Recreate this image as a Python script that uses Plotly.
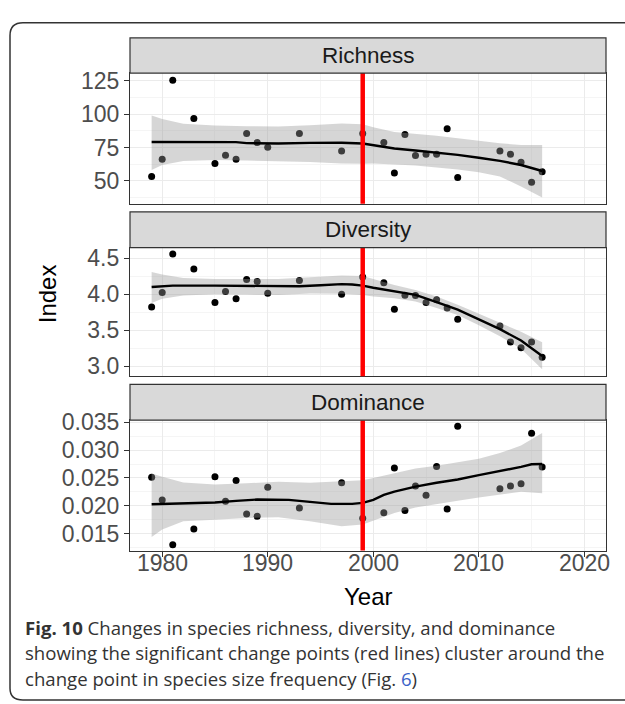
import plotly.graph_objects as go

W, H = 625, 704

# ---- observations -------------------------------------------------------
years = [1979, 1980, 1981, 1983, 1985, 1986, 1987, 1988, 1989, 1990, 1993, 1997, 1999,
         2001, 2002, 2003, 2004, 2005, 2006, 2007, 2008, 2012, 2013, 2014, 2015, 2016]

richness = [53.2, 66.3, 125.5, 96.8, 63.1, 69.3, 66.3, 85.6, 78.7, 75.2, 85.6, 72.5, 85.6,
            78.7, 55.9, 84.7, 69.1, 70.0, 70.0, 89.1, 52.5, 72.5, 70.0, 63.9, 49.0, 56.9]

diversity = [3.823, 4.023, 4.559, 4.350, 3.886, 4.036, 3.936, 4.205, 4.177, 4.014, 4.191, 4.000, 4.241,
             4.159, 3.791, 3.986, 3.982, 3.886, 3.923, 3.809, 3.650, 3.559, 3.336, 3.255, 3.336, 3.123]

dominance = [0.02515, 0.02105, 0.01298, 0.01583, 0.02521, 0.02082, 0.02455, 0.01850, 0.01809, 0.02331,
             0.01957, 0.02414, 0.01773, 0.01874, 0.02681, 0.01915, 0.02355, 0.02188, 0.02705, 0.01940,
             0.03429, 0.02307, 0.02355, 0.02396, 0.03304, 0.02699]

change_point = 1999

# ---- smoothed trends (loess fit) ---------------------------------------
richness_fit_years = [1979, 1983, 1987, 1988, 1991, 1994, 1997, 1999, 2000, 2002, 2004, 2006,
                      2008, 2010, 2012, 2014, 2016]
richness_fit = [79.2, 79.2, 79.1, 78.3, 78.0, 78.5, 78.6, 78.0, 76.7, 74.3, 72.8, 71.2,
                69.5, 67.3, 65.0, 61.9, 57.4]

diversity_fit_years = [1979, 1981, 1985, 1990, 1993, 1995, 1997, 1998, 1999, 2000, 2002, 2004,
                       2006, 2008, 2010, 2012, 2014, 2016]
diversity_fit = [4.100, 4.120, 4.120, 4.120, 4.110, 4.125, 4.140, 4.135, 4.120, 4.090, 4.045, 3.990,
                 3.890, 3.786, 3.650, 3.514, 3.355, 3.141]

dominance_fit_years = [1979, 1982, 1985, 1987, 1989, 1992, 1994, 1996, 1998, 1999, 2000, 2001,
                       2002, 2004, 2006, 2008, 2010, 2012, 2014, 2015, 2016]
dominance_fit = [0.02028, 0.02046, 0.02058, 0.02088, 0.02111, 0.02105, 0.02064, 0.02034, 0.02034,
                 0.02052, 0.02105, 0.02194, 0.02254, 0.02343, 0.02414, 0.02473, 0.02550, 0.02622,
                 0.02699, 0.02746, 0.02752]

# ---- confidence bands ---------------------------------------------------
band_years = [1979, 1980, 1982, 1985, 1988, 1991, 1994, 1997, 1999, 2000, 2002, 2004,
              2006, 2008, 2010, 2012, 2014, 2016]

richness_upper = [99.0, 96.5, 92.8, 91.5, 91.0, 90.8, 91.7, 93.0, 92.5, 90.3, 86.6, 85.4,
                  83.8, 82.0, 80.0, 78.2, 77.0, 77.0]
richness_lower = [58.2, 61.9, 64.9, 65.6, 65.3, 65.0, 64.2, 63.0, 62.8, 63.1, 62.3, 61.6,
                  60.1, 58.5, 56.5, 53.2, 45.8, 37.5]

diversity_upper = [4.309, 4.273, 4.227, 4.210, 4.210, 4.210, 4.235, 4.260, 4.255, 4.210, 4.127, 4.059,
                   3.968, 3.855, 3.727, 3.605, 3.477, 3.332]
diversity_lower = [3.877, 3.936, 3.982, 4.000, 3.995, 3.990, 4.010, 4.005, 3.990, 3.968, 3.945, 3.900,
                   3.809, 3.709, 3.568, 3.414, 3.241, 2.955]

dominance_upper = [0.02580, 0.02521, 0.02420, 0.02384, 0.02405, 0.02430, 0.02414, 0.02444, 0.02461,
                   0.02500, 0.02590, 0.02670, 0.02720, 0.02788, 0.02847, 0.02948, 0.03085, 0.03310]
dominance_lower = [0.01435, 0.01571, 0.01720, 0.01749, 0.01779, 0.01791, 0.01720, 0.01631, 0.01660,
                   0.01720, 0.01868, 0.01969, 0.02028, 0.02088, 0.02147, 0.02194, 0.02254, 0.02224]

# ---- axis ticks ---------------------------------------------------------
x_ticks = [1980, 1990, 2000, 2010, 2020]
x_tick_labels = ["1980", "1990", "2000", "2010", "2020"]
richness_ticks = [50, 75, 100, 125]
richness_tick_labels = ["50", "75", "100", "125"]
diversity_ticks = [3.0, 3.5, 4.0, 4.5]
diversity_tick_labels = ["3.0", "3.5", "4.0", "4.5"]
dominance_ticks = [0.015, 0.020, 0.025, 0.030, 0.035]
dominance_tick_labels = ["0.015", "0.020", "0.025", "0.030", "0.035"]

panel_titles = ["Richness", "Diversity", "Dominance"]
caption_lines = [
    "<b>Fig. 10</b> Changes in species richness, diversity, and dominance",
    "showing the significant change points (red lines) cluster around the",
    "change point in species size frequency (Fig. <span style='color:#3a63c8'>6</span>)",
]

# ---- geometry (pixels) --------------------------------------------------
def px_x(v):
    return v / W


def px_y(v):
    return 1 - v / H


plot_left, plot_right = 130, 606
panel_px = [(63.3, 196.7), (241.5, 372.7), (417.5, 550.5)]
strip_px = [(27.5, 63.3), (205.0, 241.5), (381.0, 417.5)]
x_range = [1976.95, 2022.05]
y_ranges = [[32.8, 130.9], [2.858, 4.647], [0.01193, 0.03540]]

panels = [
    dict(y=richness, fx=richness_fit_years, fy=richness_fit, up=richness_upper, lo=richness_lower,
         ticks=richness_ticks, labels=richness_tick_labels, minor=[37.5, 62.5, 87.5, 112.5]),
    dict(y=diversity, fx=diversity_fit_years, fy=diversity_fit, up=diversity_upper, lo=diversity_lower,
         ticks=diversity_ticks, labels=diversity_tick_labels, minor=[3.25, 3.75, 4.25]),
    dict(y=dominance, fx=dominance_fit_years, fy=dominance_fit, up=dominance_upper, lo=dominance_lower,
         ticks=dominance_ticks, labels=dominance_tick_labels,
         minor=[0.0125, 0.0175, 0.0225, 0.0275, 0.0325]),
]

SANS = "Liberation Sans, Arial, sans-serif"
AXIS_FONT = dict(family=SANS, size=23, color="#4d4d4d")
GRID = "#ebebeb"
GRID_MINOR = "#f5f5f5"
BORDER = "#333333"

fig = go.Figure()
layout = dict(
    width=W, height=H,
    margin=dict(l=0, r=0, t=0, b=0),
    paper_bgcolor="white", plot_bgcolor="white",
    showlegend=False,
    shapes=[], annotations=[],
)

for i, p in enumerate(panels):
    n = "" if i == 0 else str(i + 1)
    xa, ya = "x" + n, "y" + n
    last = i == len(panels) - 1

    # points
    fig.add_trace(go.Scatter(x=years, y=p["y"], mode="markers", xaxis=xa, yaxis=ya,
                             marker=dict(color="black", size=7), hoverinfo="skip"))
    # confidence band
    fig.add_trace(go.Scatter(x=band_years + band_years[::-1], y=p["up"] + p["lo"][::-1],
                             mode="lines", fill="toself", fillcolor="rgba(153,153,153,0.4)",
                             line=dict(width=0), xaxis=xa, yaxis=ya, hoverinfo="skip"))
    # loess trend
    fig.add_trace(go.Scatter(x=p["fx"], y=p["fy"], mode="lines", xaxis=xa, yaxis=ya,
                             line=dict(color="black", width=2.4), hoverinfo="skip"))

    top, bottom = panel_px[i]
    layout["xaxis" + n] = dict(
        domain=[px_x(plot_left), px_x(plot_right)], anchor=ya, range=x_range,
        tickmode="array", tickvals=x_ticks, ticktext=x_tick_labels,
        showticklabels=False, ticks="outside" if last else "", ticklen=5, tickwidth=1.2,
        tickcolor=BORDER,
        showgrid=True, gridcolor=GRID, gridwidth=1.2, zeroline=False,
        minor=dict(tickvals=[1975, 1985, 1995, 2005, 2015], showgrid=True,
                   gridcolor=GRID_MINOR, gridwidth=0.7),
        showline=True, mirror=True, linecolor=BORDER, linewidth=1.2,
    )
    layout["yaxis" + n] = dict(
        domain=[px_y(bottom), px_y(top)], anchor=xa, range=y_ranges[i],
        tickmode="array", tickvals=p["ticks"], ticktext=p["labels"],
        ticks="outside", ticklen=5, tickwidth=1.2, tickcolor=BORDER, tickfont=AXIS_FONT,
        showgrid=True, gridcolor=GRID, gridwidth=1.2, zeroline=False,
        minor=dict(tickvals=p["minor"], showgrid=True, gridcolor=GRID_MINOR, gridwidth=0.7),
        showline=True, mirror=True, linecolor=BORDER, linewidth=1.2,
    )

    # change point
    layout["shapes"].append(dict(type="line", xref=xa, yref=ya + " domain",
                                 x0=change_point, x1=change_point, y0=0, y1=1,
                                 line=dict(color="#ff0000", width=4.5)))

    # facet strip
    s_top, s_bot = strip_px[i]
    layout["shapes"].append(dict(type="rect", xref="paper", yref="paper",
                                 x0=px_x(plot_left), x1=px_x(plot_right),
                                 y0=px_y(s_bot), y1=px_y(s_top),
                                 fillcolor="#d9d9d9", line=dict(color=BORDER, width=1.2)))
    layout["annotations"].append(dict(
        text=panel_titles[i], xref="paper", yref="paper",
        x=px_x((plot_left + plot_right) / 2), y=px_y((s_top + s_bot) / 2),
        xanchor="center", yanchor="middle", showarrow=False,
        font=dict(family=SANS, size=22.5, color="#1a1a1a")))

# year labels under the bottom panel, placed on the shared year scale
for v, lab in zip(x_ticks, x_tick_labels):
    layout["annotations"].append(dict(
        text=lab, xref="x3", yref="paper", x=v, y=px_y(563),
        xanchor="center", yanchor="middle", showarrow=False, font=AXIS_FONT))

# axis titles
layout["annotations"].append(dict(
    text="Year", xref="paper", yref="paper",
    x=px_x((plot_left + plot_right) / 2), y=px_y(597), xanchor="center", yanchor="middle",
    showarrow=False, font=dict(family=SANS, size=24, color="black")))
layout["annotations"].append(dict(
    text="Index", xref="paper", yref="paper", textangle=-90,
    x=px_x(47), y=px_y(289), xanchor="center", yanchor="middle",
    showarrow=False, font=dict(family=SANS, size=24, color="black")))

# caption
for k, line in enumerate(caption_lines):
    layout["annotations"].append(dict(
        text=line, xref="paper", yref="paper", x=px_x(23), y=px_y(629 + 26 * k),
        xanchor="left", yanchor="middle", showarrow=False, align="left",
        font=dict(family="Open Sans, Noto Sans, sans-serif", size=18.6, color="#333333")))

# rounded frame around figure and caption
frame = (f"M {px_x(640)},{px_y(12)} L {px_x(23)},{px_y(12)} "
         f"Q {px_x(10)},{px_y(12)} {px_x(10)},{px_y(25)} "
         f"L {px_x(10)},{px_y(691)} Q {px_x(10)},{px_y(703)} {px_x(23)},{px_y(703)} "
         f"L {px_x(640)},{px_y(703)}")
layout["shapes"].append(dict(type="path", xref="paper", yref="paper", path=frame,
                             line=dict(color="#333333", width=1.5)))

fig.update_layout(**layout)
fig.write_html("out.html")
